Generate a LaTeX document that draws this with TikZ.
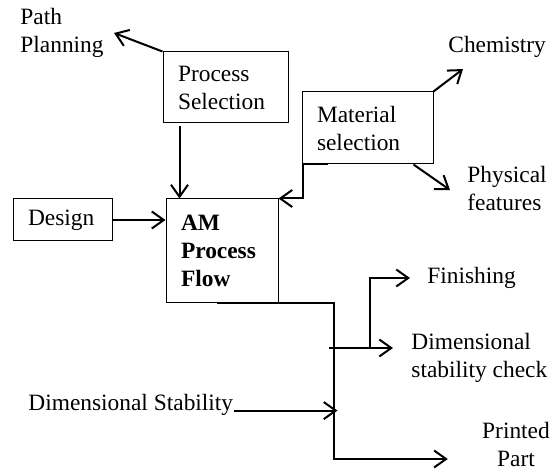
\documentclass[tikz,border=0pt]{standalone}
\usepackage{fontspec}
\setmainfont{Liberation Serif}
\usetikzlibrary{arrows.meta}
\begin{document}
\begin{tikzpicture}[x=0.5pt, y=-0.5pt, >={Straight Barb[length=6pt,width=8.5pt]},
    box node/.style={draw, line width=0.5pt, inner xsep=7.5pt, inner ysep=0pt, align=left},
    text node/.style={inner sep=0pt, anchor=west, align=left},
    flow/.style={->, line width=1pt}]
        \tikzstyle{every node}=[font=\fontsize{11.7}{14}\selectfont]
        \useasboundingbox (0,0) rectangle (551,470);

          \node[box node, text width=47.5pt, minimum height=35.5pt] (process) at (225.5,87.5) {Process\\Selection};
          \node[box node, text width=50.5pt, minimum height=36pt] (material) at (367.5,128) {Material\\selection};
          \node[box node, text width=34.5pt, minimum height=21pt] (design) at (62.5,220) {Design};
          \node[box node, text width=41pt, minimum height=51.5pt, font=\fontsize{11.7}{14}\selectfont\bfseries] (am) at (222,250.5) {AM\\Process\\Flow};

          \node[text node] (path) at (20,33) {Path\\Planning};
          \node[text node] (chem) at (448,47) {Chemistry};
          \node[text node] (phys) at (467,188) {Physical\\features};
          \node[text node] (finish) at (427,278) {Finishing};
          \node[text node] (check) at (411,358) {Dimensional\\stability check};
          \node[text node] (stab) at (28,405) {Dimensional Stability};
          \node[inner sep=0pt, align=center] (part) at (516,444) {Printed\\Part};

          \coordinate (bus) at ([xshift=27.5pt]am.south east);
          \coordinate (tap) at (329,348);
          \coordinate (fork) at (370,348);

          % inputs
          \draw[flow] (process.north west) -- ([xshift=5pt]path.east);
          \draw[flow] ([xshift=8.5pt,yshift=-1.5pt]process.south west) -- ([xshift=7pt]am.north west);
          \draw[flow] (design.east) -- (design.east -| am.west);
          \draw[flow] (material.north east) -- ([shift={(7.5pt,-5.5pt)}]chem.south west);
          \draw[flow] ([xshift=-10pt]material.south east) -- ([shift={(-8.5pt,-1pt)}]phys.west);
          \draw[flow] ([xshift=13pt]material.south west) -- ([xshift=0.5pt]material.south west) |- (am.north east);

          % outputs
          \draw[flow] ([xshift=25.5pt]am.south west) -- (bus) |- ([shift={(-17pt,-7.5pt)}]part.west);
          \draw[flow] (tap) -- ([xshift=-9pt]check.west |- tap);
          \draw[flow] (fork) |- ([xshift=-8.5pt]finish.west);
          \draw[flow] (stab.base east) -- ([xshift=2pt]stab.base east -| bus);

\end{tikzpicture}
\end{document}
